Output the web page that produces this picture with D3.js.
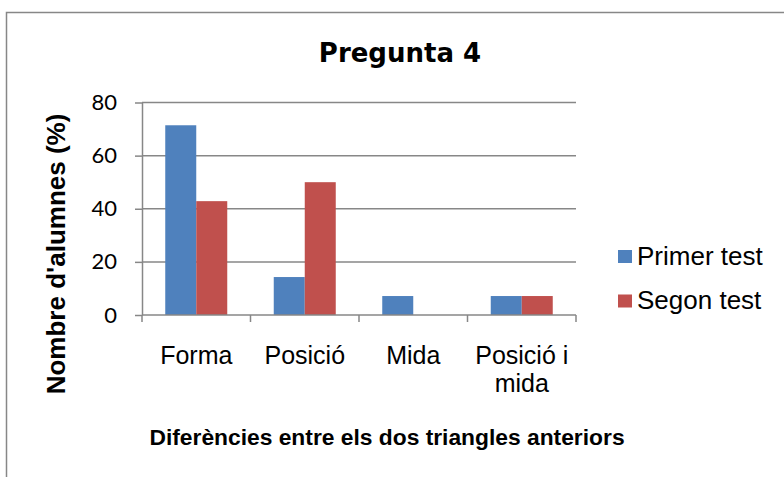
<!DOCTYPE html>
<html>
<head>
<meta charset="utf-8">
<script src="https://cdn.jsdelivr.net/npm/d3@7"></script>
<style>
  html, body { margin: 0; padding: 0; background: #fff; }
  svg { display: block; }
</style>
</head>
<body>
<svg id="chart" width="784" height="477"></svg>
<script>
const categories = ["Forma", "Posició", "Mida", "Posició i mida"];
const categoryLines = [["Forma"], ["Posició"], ["Mida"], ["Posició i", "mida"]];
const seriesNames = ["Primer test", "Segon test"];
const primerTest = [71.43, 14.29, 7.14, 7.14];
const segonTest = [42.86, 50, 0, 7.14];
const yTicks = [0, 20, 40, 60, 80];
const colors = ["#4F81BD", "#C0504D"];
const title = "Pregunta 4";
const xTitle = "Diferències entre els dos triangles anteriors";
const yTitle = "Nombre d'alumnes (%)";

const values = [primerTest, segonTest];
const svg = d3.select("#chart");
const plotLeft = 142, plotRight = 576, plotTop = 102.5, plotBottom = 315;
const grey = "#878787";
const sans = "'Liberation Sans', Arial, sans-serif";

// outer border
svg.append("rect").attr("x", 6.5).attr("y", 12.5).attr("width", 900).attr("height", 600)
  .attr("fill", "none").attr("stroke", grey).attr("stroke-width", 1.5);

const x0 = d3.scaleBand().domain(categories).range([plotLeft, plotRight]).paddingInner(0).paddingOuter(0);
const groupW = x0.bandwidth() / 1.75;
const x1 = d3.scaleBand().domain(seriesNames).range([0, groupW]);
const y = d3.scaleLinear().domain([0, 80]).range([plotBottom, plotTop]);

// gridlines
svg.append("g").selectAll("line").data(yTicks.filter(d => d > 0)).join("line")
  .attr("x1", plotLeft).attr("x2", plotRight).attr("y1", d => y(d)).attr("y2", d => y(d))
  .attr("stroke", grey).attr("stroke-width", 1.5);

// y axis
const yAxis = svg.append("g").attr("transform", `translate(${plotLeft},0)`)
  .call(d3.axisLeft(y).tickValues(yTicks).tickSize(7).tickPadding(18).tickSizeOuter(0));
yAxis.select(".domain").attr("stroke", grey).attr("stroke-width", 1.5);
yAxis.selectAll(".tick line").attr("stroke", grey).attr("stroke-width", 1.5);
yAxis.selectAll(".tick text").attr("font-family", "Lato, 'Open Sans', sans-serif").attr("font-size", 22).attr("fill", "#000");

// bars
const g = svg.append("g");
seriesNames.forEach((s, si) => {
  g.append("g").selectAll("rect").data(categories).join("rect")
    .attr("x", (c) => x0(c) + (x0.bandwidth() - groupW) / 2 + x1(s))
    .attr("width", x1.bandwidth())
    .attr("y", (c, i) => y(values[si][i]))
    .attr("height", (c, i) => y(0) - y(values[si][i]))
    .attr("fill", colors[si]);
});

// x axis
const xAxis = svg.append("g").attr("transform", `translate(0,${plotBottom})`);
xAxis.append("line").attr("x1", plotLeft).attr("x2", plotRight).attr("stroke", grey).attr("stroke-width", 1.5);
const boundaries = categories.map(c => x0(c)).concat([plotRight]);
xAxis.selectAll("line.tk").data(boundaries).join("line").attr("class", "tk")
  .attr("x1", d => d).attr("x2", d => d).attr("y1", 0).attr("y2", 7)
  .attr("stroke", grey).attr("stroke-width", 1.5);

// category labels
categories.forEach((c, i) => {
  const t = svg.append("text").attr("text-anchor", "middle")
    .attr("font-family", sans).attr("font-size", 25).attr("fill", "#000");
  categoryLines[i].forEach((ln, li) => {
    t.append("tspan").attr("x", x0(c) + x0.bandwidth() / 2).attr("y", 364 + li * 28).text(ln);
  });
});

// titles
svg.append("text").attr("x", 400).attr("y", 62).attr("text-anchor", "middle")
  .attr("font-family", "'DejaVu Sans', sans-serif").attr("font-weight", "bold").attr("font-size", 26)
  .text(title);
svg.append("text").attr("x", 387).attr("y", 445).attr("text-anchor", "middle")
  .attr("font-family", sans).attr("font-weight", "bold").attr("font-size", 22.8)
  .text(xTitle);
svg.append("text").attr("transform", "translate(65,254) rotate(-90)").attr("text-anchor", "middle")
  .attr("font-family", sans).attr("font-weight", "bold").attr("font-size", 26)
  .text(yTitle);

// legend
const leg = svg.append("g");
seriesNames.forEach((s, i) => {
  const ly = 256.5 + i * 44.5;
  leg.append("rect").attr("x", 618).attr("y", ly - 6.5).attr("width", 14).attr("height", 13).attr("fill", colors[i]);
  leg.append("text").attr("x", 637).attr("y", ly + 8).attr("font-family", sans)
    .attr("font-size", 26).attr("fill", "#000").text(s);
});
</script>
</body>
</html>
